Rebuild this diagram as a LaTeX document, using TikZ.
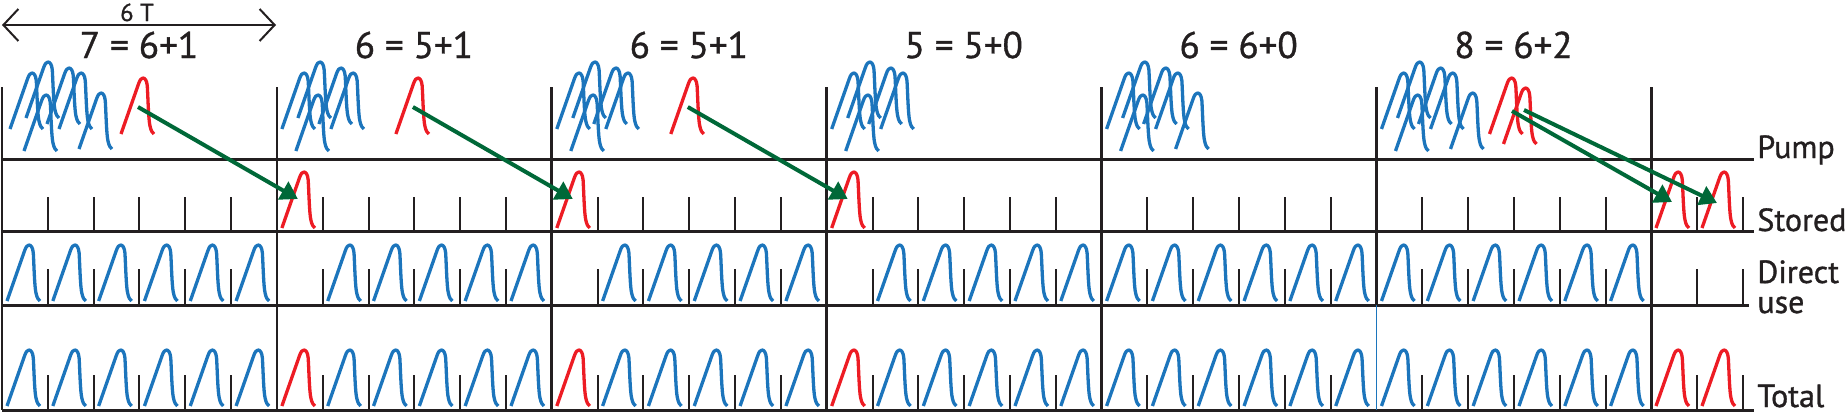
\documentclass[tikz,border=0pt]{standalone}
\usepackage{fontspec}
\setmainfont{PT Sans}
\newfontfamily\headfont{PT Sans}[FakeBold=1.0]
\usetikzlibrary{arrows.meta}
\definecolor{pblue}{RGB}{28,117,188}
\definecolor{pred}{RGB}{237,28,36}
\definecolor{pgreen}{RGB}{0,104,56}
\definecolor{pblack}{RGB}{35,31,32}
\tikzset{
  rowline/.style={pblack,line width=1.5pt},
  blockline/.style={pblack,line width=1.35pt},
  tickline/.style={pblack,line width=1pt},
  flowarrow/.style={pgreen,line width=2pt,-{Triangle[length=8.5pt,width=10pt]}},
  spanarrow/.style={pblack,line width=1pt,{Straight Barb[length=7.5pt,width=16pt]}-{Straight Barb[length=7.5pt,width=16pt]}},
  heading/.style={anchor=base,inner sep=0pt,text=pblack,font=\headfont\fontsize{18.6}{20}\selectfont},
  rowlabel/.style={anchor=base west,inner sep=0pt,text=pblack,font=\headfont\fontsize{16}{15}\selectfont},
  pics/bpulse/.style={code={\draw[pblue,line width=1.65pt,line join=round] (-22,56) -- (-4.5,6) .. controls (-3,1.5) and (-1.5,0) .. (0,0) .. controls (2,0) and (3.8,2.5) .. (4.3,8) .. controls (5,20) and (5.5,42) .. (7,48) .. controls (8,53) and (9.5,55) .. (11,56);}},
  pics/rpulse/.style={code={\draw[pred,line width=1.65pt,line join=round] (-22,56) -- (-4.5,6) .. controls (-3,1.5) and (-1.5,0) .. (0,0) .. controls (2,0) and (3.8,2.5) .. (4.3,8) .. controls (5,20) and (5.5,42) .. (7,48) .. controls (8,53) and (9.5,55) .. (11,56);}},
}
\begin{document}
\begin{tikzpicture}[x=0.5pt,y=-0.5pt]
\useasboundingbox (0,0) rectangle (1848,413);

% span arrow and label
\coordinate (spanL) at (2,25);
\coordinate (spanR) at (276,25);
\draw[spanarrow] (spanL) -- (spanR);
\node[anchor=base,inner sep=0pt,text=pblack,font=\headfont\fontsize{12.3}{13}\selectfont] (spanlbl) at (137,21) {6 T};

% headings
\foreach \k/\t in {1/{7 = 6+1},2/{6 = 5+1},3/{6 = 5+1},4/{5 = 5+0},5/{6 = 6+0},6/{8 = 6+2}} {
  \pgfmathsetmacro\L{2+274.9*(\k-1)}
  \node[heading] (head\k) at ({\L+137},58) {\t};
}

% horizontal row lines
\draw[rowline] (2,159) -- (1754,159);
\draw[rowline] (2,231) -- (1754,231);
\draw[rowline] (2,305) -- (1749,305);
\draw[rowline] (2,410) -- (1754,410);

% block boundaries
\foreach \k in {1,2,3,4,5,7} {
  \pgfmathsetmacro\L{2+274.9*(\k-1)}
  \draw[blockline] (\L,87) -- (\L,410);
}
\pgfmathsetmacro\Lsix{2+274.9*5}
\draw[blockline] (\Lsix,87) -- (\Lsix,305);
\draw[pblue,line width=0.8pt] (\Lsix,305) -- (\Lsix,410);

% ticks
\foreach \k in {1,...,6} {
  \pgfmathsetmacro\L{2+274.9*(\k-1)}
  \foreach \j in {1,...,5} {
    \pgfmathsetmacro\tx{\L+45.82*\j}
    \draw[tickline] (\tx,197) -- (\tx,231);
    \draw[tickline] (\tx,269) -- (\tx,305);
    \draw[tickline] (\tx,375) -- (\tx,410);
  }
}
\foreach \tx in {1697,1743} {
  \draw[tickline] (\tx,197) -- (\tx,231);
  \draw[tickline] (\tx,269) -- (\tx,305);
  \draw[tickline] (\tx,375) -- (\tx,410);
}

% direct use and total (blue)
\foreach \k/\f in {1/1,2/2,3/2,4/2,5/1,6/1} {
  \pgfmathsetmacro\L{2+274.9*(\k-1)}
  \foreach \j in {\f,...,6} {
    \pic at ({\L+45.82*(\j-1)+27},245) {bpulse};
    \pic at ({\L+45.82*(\j-1)+27},350) {bpulse};
  }
}
% stored and total red
\foreach \k in {2,3,4} {
  \pgfmathsetmacro\L{2+274.9*(\k-1)}
  \pic at ({\L+27},172) {rpulse};
  \pic at ({\L+27},350) {rpulse};
}
\foreach \px in {1678,1724} {
  \pic at (\px,172) {rpulse};
  \pic at (\px,350) {rpulse};
}

% pump clusters
\foreach \k/\s in {1/3,5/0,6/0} {
  \pgfmathsetmacro\L{2+274.9*(\k-1)+\s}
  \foreach \dx/\dy in {27/73,43/62,64/68,76/73,41/95,96/93} {
    \pic at ({\L+\dx},\dy) {bpulse};
  }
}
\foreach \k in {2,3,4} {
  \pgfmathsetmacro\L{2+274.9*(\k-1)}
  \foreach \dx/\dy in {27/73,43/62,64/68,76/73,41/95} {
    \pic at ({\L+\dx},\dy) {bpulse};
  }
}
\foreach \k in {1,2,3} {
  \pgfmathsetmacro\L{2+274.9*(\k-1)}
  \pic at ({\L+141},78) {rpulse};
}
\pic at ({\Lsix+135},78) {rpulse};
\pic at ({\Lsix+149},88) {rpulse};

% green arrows
\foreach \k in {1,2,3} {
  \pgfmathsetmacro\L{2+274.9*(\k-1)}
  \pgfmathsetmacro\Ln{2+274.9*\k}
  \coordinate (src\k) at ({\L+136},107);
  \coordinate (dst\k) at ({\Ln+21},199);
  \draw[flowarrow] (src\k) -- (dst\k);
}
\coordinate (src6a) at (1512,111);
\coordinate (dst6a) at (1672,202);
\coordinate (src6b) at (1524,110);
\coordinate (dst6b) at (1717,203);
\draw[flowarrow] (src6a) -- (dst6a);
\draw[flowarrow] (src6b) -- (dst6b);

% row labels
\node[rowlabel] (lpump) at (1757,158) {Pump};
\node[rowlabel] (lstored) at (1757,231) {Stored};
\node[rowlabel] (ldirect) at (1757,283) {Direct};
\node[rowlabel] (luse) at (1757,313) {use};
\node[rowlabel] (ltotal) at (1757,407) {Total};
\end{tikzpicture}
\end{document}
